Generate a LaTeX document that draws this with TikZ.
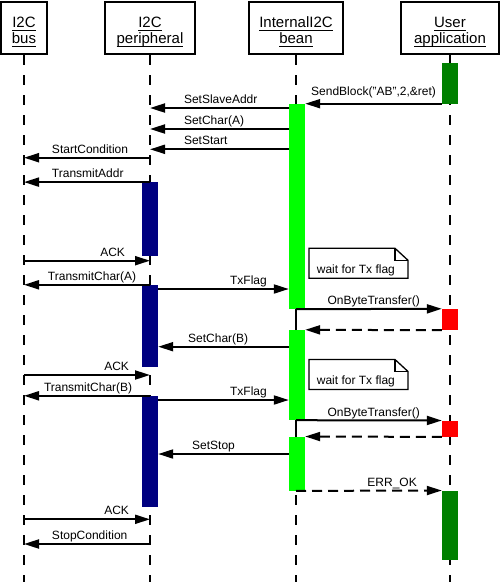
\documentclass[tikz,border=0pt]{standalone}
\usepackage{fontspec}
\setmainfont{Liberation Sans}
\usetikzlibrary{arrows.meta}

\definecolor{appgreen}{RGB}{0,128,0}
\definecolor{beangreen}{RGB}{0,255,0}
\definecolor{pernavy}{RGB}{0,0,128}
\definecolor{cbred}{RGB}{255,0,0}

% underlined header line with fixed height and no depth
\newsavebox{\hdrbox}
\newcommand{\hdrline}[1]{%
  \sbox{\hdrbox}{#1}%
  \smash{\rlap{\rule[-3.6pt]{\wd\hdrbox}{1.1pt}}\usebox{\hdrbox}}%
  \rule{0pt}{14pt}}

\begin{document}
\begin{tikzpicture}[x=1pt,y=-1pt,
  head/.style={draw, line width=2pt, inner sep=0pt, align=center,
    font=\fontsize{15}{16}\selectfont},
  life/.style={line width=2pt, dash pattern=on 10pt off 10pt},
  solidlife/.style={line width=2pt},
  actbar/.style={minimum width=16pt, inner sep=0pt, draw=none},
  msg/.style={line width=2pt, -{Triangle[length=15pt,width=9pt]}},
  ret/.style={msg, dash pattern=on 10pt off 6pt},
  lbl/.style={font=\fontsize{12}{14}\selectfont, inner sep=0pt},
  lw/.style={lbl, anchor=base west, yshift=4.5pt, xshift=#1},
  le/.style={lbl, anchor=base east, yshift=4.5pt, xshift=#1},
  pics/txnote/.style={code={
    \draw[line width=1.3pt, fill=white]
      (0,0) -- (86,0) -- (99,12) -- (99,30) -- (0,30) -- cycle;
    \draw[line width=1.3pt] (86,0) -- (86,12) -- (99,12);
    \node[lbl, anchor=base west] (-t) at (7.7,25) {#1};
  }}
]
\useasboundingbox (0,0) rectangle (500,582);

% participants
\node[head, minimum width=46pt, minimum height=52.3pt] (bus) at (24,28.15)
  {\hdrline{I2C}\\\hdrline{bus}};
\node[head, minimum width=90pt, minimum height=52.3pt] (per) at (150,28.15)
  {\hdrline{I2C}\\\hdrline{peripheral}};
\node[head, minimum width=94pt, minimum height=52.3pt] (bean) at (296,28.15)
  {\hdrline{InternalI2C}\\\hdrline{bean}};
\node[head, minimum width=98pt, minimum height=52.3pt] (user) at (450,28.15)
  {\hdrline{User}\\\hdrline{application}};

% lifelines
\foreach \p in {bus,per,bean,user}
  \draw[life] (\p.south) -- (\p.south |- 0,582);

% activation bars
\node[actbar, fill=appgreen,  minimum height=40.8pt] (u1) at (450,83.1) {};
\node[actbar, fill=beangreen, minimum height=205pt]  (b1) at (297,206.5) {};
\node[actbar, fill=pernavy,   minimum height=73.4pt] (p1) at (150,219) {};
\node[actbar, fill=cbred,     minimum height=21pt]   (r1) at (450,319.5) {};
\node[actbar, fill=beangreen, minimum height=90pt]   (b2) at (297,375) {};
\node[actbar, fill=pernavy,   minimum height=82pt]   (p2) at (150,326) {};
\node[actbar, fill=pernavy,   minimum height=111pt]  (p3) at (150,451.5) {};
\node[actbar, fill=cbred,     minimum height=16pt]   (r2) at (450,428.7) {};
\node[actbar, fill=beangreen, minimum height=54pt]   (b3) at (297,463.7) {};
\node[actbar, fill=appgreen,  minimum height=69.3pt] (u2) at (450,525.35) {};

% short solid pieces of the bean lifeline between its bars
\draw[solidlife] (b1.south -| bean) -- (b2.north -| bean);
\draw[solidlife] (b2.south -| bean) -- (b3.north -| bean);

% notes
\pic (n1) at (309,248.3) {txnote={wait for Tx flag}};
\pic (n2) at (309,359.5) {txnote={wait for Tx flag}};

% messages
\draw[msg] (u1.south west) -- (b1.east |- u1.south west)
  node[lw=5pt, yshift=3.5pt] (m1) {SendBlock("AB",2,\&ret)};
\draw[msg] (b1.west |- 0,108) -- (per |- 0,108)
  node[lw=33pt] (m2) {SetSlaveAddr};
\draw[msg] (b1.west |- 0,129) -- (per |- 0,129)
  node[lw=33pt] (m3) {SetChar(A)};
\draw[msg] (b1.west |- 0,149.3) -- (per |- 0,149.3)
  node[lw=33pt] (m4) {SetStart};
\draw[msg] (per |- 0,157.7) -- (bus |- 0,157.7)
  node[lw=27pt] (m5) {StartCondition};
\draw[msg] (p1.north -| per) -- (p1.north -| bus)
  node[lw=27pt] (m6) {TransmitAddr};
\draw[msg] (bus |- 0,260.7) -- (per |- 0,260.7)
  node[le=-24pt] (m7) {ACK};
\draw[msg] (p2.north -| per) -- (p2.north -| bus)
  node[lw=23pt] (m8) {TransmitChar(A)};
\draw[msg] (p2.east |- 0,289) -- (b1.west |- 0,289)
  node[le=-21pt] (m9) {TxFlag};
\draw[msg] (b1.south -| bean) -- (r1.north west)
  node[le=-21pt] (m10) {OnByteTransfer()};
\draw[ret] (r1.south west) -- (b2.north east);
\draw[msg] (b2.west |- 0,346.7) -- (p2.east |- 0,346.7)
  node[lw=29pt] (m11) {SetChar(B)};
\draw[msg] (bus |- 0,375) -- (per |- 0,375)
  node[le=-20pt] (m12) {ACK};
\draw[msg] (p3.north -| per) -- (p3.north -| bus)
  node[lw=19pt] (m13) {TransmitChar(B)};
\draw[msg] (p3.east |- 0,400) -- (b2.west |- 0,400)
  node[le=-21pt] (m14) {TxFlag};
\draw[msg] (b2.south -| bean) -- (r2.north west)
  node[le=-21pt] (m15) {OnByteTransfer()};
\draw[ret] (r2.south west) -- (b3.north east);
\draw[msg] (b3.west |- 0,454) -- (p3.east |- 0,454)
  node[lw=33pt] (m16) {SetStop};
\draw[ret] (b3.south -| bean) -- (u2.north west)
  node[le=-24pt] (m17) {ERR\_OK};
\draw[msg] (bus |- 0,519.3) -- (per |- 0,519.3)
  node[le=-20pt] (m18) {ACK};
\draw[msg] (per |- 0,544) -- (bus |- 0,544)
  node[lw=27pt] (m19) {StopCondition};
\end{tikzpicture}
\end{document}
